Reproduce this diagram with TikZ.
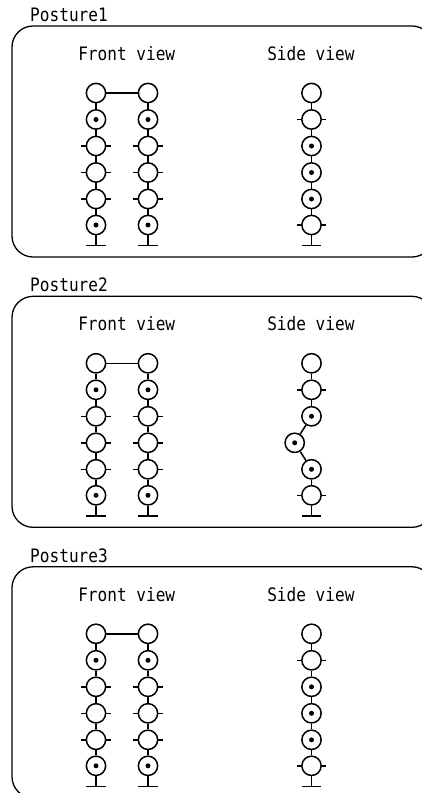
\documentclass[tikz,border=0pt]{standalone}
\usepackage{fontspec}
\setmonofont[FakeStretch=0.87]{DejaVu Sans Mono}
\tikzset{
  x=1pt,y=-1pt,
  joint/.style={circle,draw,minimum size=19.3pt,inner sep=0pt,line width=1.5pt},
  jointdot/.style={joint,path picture={\fill (path picture bounding box.center) circle (2.5pt);}},
  heading/.style={anchor=base west,inner sep=0pt,font=\ttfamily\fontsize{18.5}{18.5}\selectfont},
  panelbox/.style={draw,rounded corners=21pt,line width=1.3pt}
}
% #1 name, #2 x of rows 1-3,5,6, #3 x of row 4, #4 dotted rows, #5 ticked rows, #6 plain rows
\newcommand{\jointcolumn}[6]{%
  \foreach \r/\yy/\xx in {1/93/#2,2/119.5/#2,3/146/#2,4/172.5/#3,5/199/#2,6/225/#2}{%
    \coordinate (#1-p\r) at (\xx,\yy);}
  \foreach \r in {#4}{\node[jointdot] (#1-\r) at (#1-p\r) {};}
  \foreach \r in {#5,#6}{\node[joint] (#1-\r) at (#1-p\r) {};}
  \foreach \r in {#5}{%
    \coordinate (#1-tl\r) at ([xshift=-4.2pt]#1-\r.west);
    \coordinate (#1-tr\r) at ([xshift=4.2pt]#1-\r.east);
    \draw (#1-\r.west) -- (#1-tl\r);
    \draw (#1-\r.east) -- (#1-tr\r);}
  \foreach \r/\s in {1/2,2/3,3/4,4/5,5/6}{\draw (#1-\r) -- (#1-\s);}
  \coordinate (#1-g) at (#2,245.5);
  \coordinate (#1-gl) at (#2-9.7,245.5);
  \coordinate (#1-gr) at (#2+9.7,245.5);
  \draw (#1-6) -- (#1-g);
  \draw (#1-gl) -- (#1-gr);
}
\newcommand{\posturepanel}[4]{% #1 prefix, #2 offset, #3 title, #4 x of side row 4
  \begin{scope}[shift={(0,#2)}]
    \node[heading] (#1title) at (29.5,21.2) {#3};
    \node[heading] (#1front) at (77.5,60.5) {Front view};
    \node[heading] (#1side) at (266.5,60.5) {Side view};
    \draw[panelbox] (12,26) rectangle (433,257);
    \jointcolumn{#1L}{96}{96}{2,6}{3,4,5}{1}
    \jointcolumn{#1R}{148}{148}{2,6}{3,4,5}{1}
    \draw (#1L-1) -- (#1R-1);
    \jointcolumn{#1S}{311.5}{#4}{3,4,5}{2,6}{1}
  \end{scope}
}
\begin{document}
\begin{tikzpicture}[line width=1.5pt]
  \useasboundingbox (0,0) rectangle (422,793);
  \fill[white] (0,0) rectangle (422,793);
  \begin{scope}
    \clip (0,0) rectangle (422,793);
    \posturepanel{a}{0}{Posture1}{311.5}
    \posturepanel{b}{270.3}{Posture2}{294.7}
    \posturepanel{c}{540.8}{Posture3}{311.5}
  \end{scope}
\end{tikzpicture}
\end{document}
